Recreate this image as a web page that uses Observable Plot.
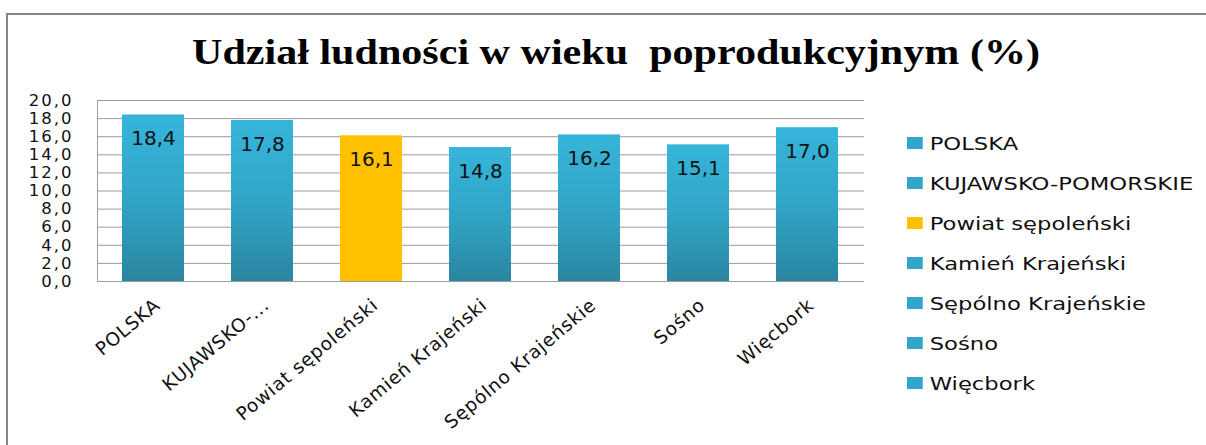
<!DOCTYPE html>
<html>
<head>
<meta charset="utf-8">
<script src="https://cdn.jsdelivr.net/npm/d3@7"></script>
<script src="https://cdn.jsdelivr.net/npm/@observablehq/plot@0.6"></script>
<style>
  html, body { margin: 0; padding: 0; background: #fff; }
  #wrap { position: relative; width: 1206px; height: 445px; overflow: hidden; background: #fff; }
  #frame { position: absolute; left: 6px; top: 13px; width: 1200px; height: 432px;
           border-top: 2px solid #868686; border-left: 2px solid #868686; box-sizing: border-box; }
  #title { position: absolute; left: 192px; top: 34px; font-family: "Liberation Serif", serif; font-weight: bold;
           font-size: 36px; line-height: 36px; white-space: pre; color: #000; transform-origin: 0 0; }
  #chart { position: absolute; left: 0; top: 88px; }
  #chart g[aria-label="y-axis tick label"] text { font-size: 16.5px; letter-spacing: 2px; }
  #chart g[aria-label="x-axis tick label"] text { font-size: 18.5px; letter-spacing: 0.8px; }
  #chart g[aria-label="text"] text { font-size: 20px; }
  #legend { position: absolute; left: 907px; top: 123px; transform-origin: 0 0; transform: scaleX(1.26); }
  .lg-swatch { height: 40px; margin: 0 !important; padding: 0 !important; }
  .lg-swatch svg { margin-right: 5.5px !important; }
</style>
</head>
<body>
<div id="wrap">
  <div id="frame"></div>
  <div id="title"></div>
  <div id="chart"></div>
  <div id="legend"></div>
</div>
<script>
const titleText = "Udział ludności w wieku  poprodukcyjnym (%)";
const categories = ["POLSKA", "KUJAWSKO-POMORSKIE", "Powiat sępoleński", "Kamień Krajeński", "Sępólno Krajeńskie", "Sośno", "Więcbork"];
const values = [18.4, 17.8, 16.1, 14.8, 16.2, 15.1, 17.0];
const xTickLabels = ["POLSKA", "KUJAWSKO-...", "Powiat sępoleński", "Kamień Krajeński", "Sępólno Krajeńskie", "Sośno", "Więcbork"];
const yTicks = [0, 2, 4, 6, 8, 10, 12, 14, 16, 18, 20];
const highlighted = "Powiat sępoleński";

const BLUE = "#31A6CA";
const YELLOW = "#FFC000";

const data = categories.map((name, i) => ({name, value: values[i]}));
const fmt = d => d.toFixed(1).replace(".", ",");

// title
const t = document.getElementById("title");
t.textContent = titleText;
const w = t.getBoundingClientRect().width;
t.style.transform = `scaleX(${848 / w})`;

const chart = Plot.plot({
  width: 880,
  height: 357,
  marginLeft: 97,
  marginRight: 16,
  marginTop: 12,
  marginBottom: 164,
  style: {fontFamily: "DejaVu Sans", fontSize: "16px", background: "transparent", color: "#000", overflow: "visible"},
  x: {domain: categories, paddingInner: 0.43, paddingOuter: 0.215, label: null},
  y: {domain: [0, 20], label: null},
  marks: [
    Plot.gridY(yTicks, {stroke: "#9c9c9c", strokeOpacity: 1}),
    Plot.frame({anchor: "left", stroke: "#9c9c9c"}),
    Plot.barY(data, {x: "name", y: "value", fill: d => d.name === highlighted ? YELLOW : "url(#gBlue)"}),
    Plot.text(data, {x: "name", y: "value", text: d => fmt(d.value), dy: 24, fontSize: 20, fill: "#111"}),
    Plot.axisY(yTicks, {tickSize: 0, tickPadding: 24, tickFormat: fmt, fontSize: 16, fill: "#111", label: null}),
    Plot.axisX({tickSize: 0, tickPadding: 21, dx: 4, tickRotate: -40, tickFormat: d => xTickLabels[categories.indexOf(d)], fontSize: 18.5, fill: "#111", label: null})
  ]
});
d3.select(chart).insert("defs", ":first-child").html(
  `<linearGradient id="gBlue" x1="0" y1="0" x2="0" y2="1">
     <stop offset="0" stop-color="#36B5DA"/>
     <stop offset="0.5" stop-color="#31A5C8"/>
     <stop offset="1" stop-color="#2A869F"/>
   </linearGradient>`);
document.getElementById("chart").appendChild(chart);

const legend = Plot.legend({
  color: {type: "ordinal", domain: categories, range: categories.map(c => c === highlighted ? YELLOW : BLUE)},
  columns: 1,
  swatchWidth: 12.5,
  swatchHeight: 12,
  className: "lg",
  style: {fontFamily: "DejaVu Sans", fontSize: "18px", color: "#111", background: "transparent"}
});
document.getElementById("legend").appendChild(legend);
</script>
</body>
</html>
